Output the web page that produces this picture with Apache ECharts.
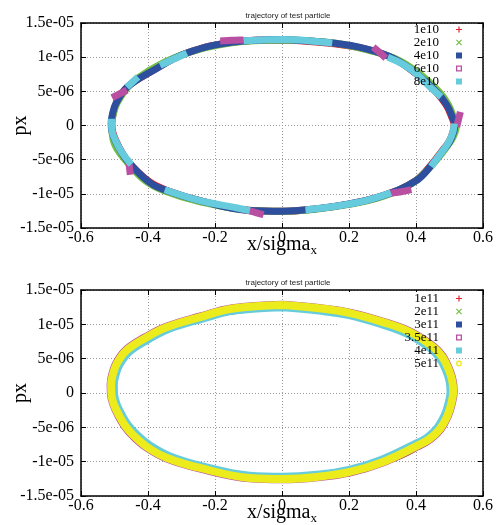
<!DOCTYPE html>
<html><head><meta charset="utf-8">
<script src="https://cdn.jsdelivr.net/npm/echarts@6/dist/echarts.min.js"></script>
<style>html,body{margin:0;padding:0;background:#fff}#c{width:500px;height:525px}</style>
</head><body><div id="c"></div>
<script>
const titleText = 'trajectory of test particle';
const xTickLabels = ['-0.6','-0.4','-0.2','0','0.2','0.4','0.6'];
const yTickLabels = ['-1.5e-05','-1e-05','-5e-06','0','5e-06','1e-05','1.5e-05'];
const topNames = ['1e10','2e10','4e10','6e10','8e10'];
const bottomNames = ['1e11','2e11','3e11','3.5e11','4e11','5e11'];

// ---- top panel ----
const top1e10 = [[0.0,12.55e-6],[0.15,12.0e-6],[0.25,11.2e-6],[0.33,9.9e-6],[0.4,7.6e-6],[0.46,4.9e-6],[0.49,3.0e-6],[0.506,1.3e-6],[0.514,0],[0.51,-1.0e-6],[0.498,-2.4e-6],[0.478,-3.7e-6],[0.448,-5.6e-6],[0.398,-8.1e-6],[0.3,-10.3e-6],[0.2,-11.5e-6],[0.1,-12.2e-6],[0.0,-12.55e-6],[-0.1,-12.4e-6],[-0.245,-11.0e-6],[-0.343,-9.5e-6],[-0.394,-8.3e-6],[-0.454,-5.6e-6],[-0.477,-4.0e-6],[-0.495,-2.3e-6],[-0.505,-1.0e-6],[-0.508,0.3e-6],[-0.504,1.7e-6],[-0.494,3.3e-6],[-0.462,5.6e-6],[-0.394,7.8e-6],[-0.284,10.6e-6],[-0.146,12.2e-6],[0.0,12.55e-6]];
const top2e10 = [[0.0,12.5e-6],[0.15,12.1e-6],[0.26,11.0e-6],[0.34,9.75e-6],[0.41,7.6e-6],[0.47,4.9e-6],[0.497,3.0e-6],[0.512,1.2e-6],[0.52,-0.3e-6],[0.515,-1.2e-6],[0.505,-2.2e-6],[0.475,-4.2e-6],[0.44,-6.2e-6],[0.39,-8.4e-6],[0.3,-10.38e-6],[0.2,-11.55e-6],[0.1,-12.25e-6],[0.0,-12.55e-6],[-0.1,-12.4e-6],[-0.25,-11.1e-6],[-0.35,-9.6e-6],[-0.41,-8.0e-6],[-0.46,-5.5e-6],[-0.485,-4.0e-6],[-0.5,-2.7e-6],[-0.507,-1.2e-6],[-0.508,0.2e-6],[-0.503,1.8e-6],[-0.49,3.5e-6],[-0.455,5.9e-6],[-0.4,7.95e-6],[-0.29,10.5e-6],[-0.15,12.1e-6],[0.0,12.5e-6]];
const top4e10 = [[0.003,12.57e-6],[0.152,12.06e-6],[0.254,11.18e-6],[0.331,9.85e-6],[0.403,7.5e-6],[0.463,4.85e-6],[0.492,3.0e-6],[0.508,1.3e-6],[0.516,0],[0.512,-1.0e-6],[0.5,-2.4e-6],[0.48,-3.68e-6],[0.45,-5.59e-6],[0.4,-8.09e-6],[0.3,-10.29e-6],[0.2,-11.47e-6],[0.1,-12.2e-6],[0.0,-12.55e-6],[-0.096,-12.45e-6],[-0.245,-11.0e-6],[-0.343,-9.55e-6],[-0.394,-8.38e-6],[-0.454,-5.59e-6],[-0.478,-4.0e-6],[-0.497,-2.3e-6],[-0.507,-1.0e-6],[-0.51,0.3e-6],[-0.506,1.7e-6],[-0.495,3.3e-6],[-0.463,5.59e-6],[-0.394,7.79e-6],[-0.284,10.6e-6],[-0.146,12.2e-6],[0.003,12.57e-6]];
const top6e10 = [[-0.174,12.4e-6],[-0.15,12.46e-6],[-0.126,12.5e-6], null,
  [0.28,11.15e-6],[0.292,10.65e-6],[0.302,10.2e-6], null,
  [0.53,1.5e-6],[0.524,0.3e-6], null,
  [0.334,-9.85e-6],[0.356,-9.7e-6],[0.376,-9.5e-6], null,
  [-0.106,-12.38e-6],[-0.085,-12.65e-6],[-0.065,-12.92e-6], null,
  [-0.456,-5.9e-6],[-0.454,-6.7e-6], null,
  [-0.498,4.3e-6],[-0.485,4.62e-6],[-0.472,4.95e-6]];
const top8e10 = [[-0.115,12.4e-6],[-0.05,12.55e-6],[0.003,12.57e-6],[0.08,12.4e-6],[0.15,12.06e-6], null,
  [0.316,10.0e-6],[0.36,9.0e-6],[0.403,7.5e-6],[0.445,5.5e-6],[0.475,4.2e-6], null,
  [0.514,0.3e-6],[0.51,-1.0e-6],[0.498,-2.4e-6],[0.48,-3.68e-6],[0.445,-6.0e-6], null,
  [0.325,-9.85e-6],[0.25,-11.0e-6],[0.15,-11.9e-6],[0.07,-12.35e-6], null,
  [-0.096,-12.45e-6],[-0.146,-11.95e-6],[-0.245,-11.0e-6],[-0.35,-9.4e-6], null,
  [-0.45,-5.7e-6],[-0.477,-4.0e-6],[-0.496,-2.3e-6],[-0.508,-0.6e-6],[-0.509,1.0e-6], null,
  [-0.463,5.59e-6],[-0.43,7.1e-6], null,
  [-0.364,8.8e-6],[-0.32,9.8e-6],[-0.284,10.6e-6]];

// ---- bottom panel ----
const bot1e11 = [[0.003,12.75e-6],[0.2,11.6e-6],[0.38,8.85e-6],[0.478,5.3e-6],[0.505,2.0e-6],[0.508,0],[0.494,-3.3e-6],[0.44,-6.6e-6],[0.3,-10.0e-6],[0.003,-12.5e-6],[-0.245,-10.9e-6],[-0.403,-7.85e-6],[-0.47,-4.8e-6],[-0.5,-1.9e-6],[-0.508,1.0e-6],[-0.494,4.2e-6],[-0.463,6.25e-6],[-0.245,11.05e-6],[0.003,12.75e-6]];
const bot2e11 = [[0.003,12.72e-6],[0.2,11.58e-6],[0.381,8.82e-6],[0.478,5.28e-6],[0.505,1.98e-6],[0.508,0],[0.493,-3.3e-6],[0.44,-6.58e-6],[0.3,-9.98e-6],[0.003,-12.47e-6],[-0.245,-10.88e-6],[-0.402,-7.82e-6],[-0.469,-4.78e-6],[-0.5,-1.9e-6],[-0.507,1.0e-6],[-0.493,4.2e-6],[-0.462,6.22e-6],[-0.245,11.02e-6],[0.003,12.72e-6]];
const bot3e11 = [[0.003,12.7e-6],[0.2,11.55e-6],[0.38,8.8e-6],[0.477,5.25e-6],[0.504,1.95e-6],[0.507,0],[0.492,-3.3e-6],[0.439,-6.55e-6],[0.3,-9.95e-6],[0.003,-12.45e-6],[-0.245,-10.85e-6],[-0.402,-7.8e-6],[-0.468,-4.75e-6],[-0.499,-1.9e-6],[-0.506,1.0e-6],[-0.492,4.2e-6],[-0.462,6.2e-6],[-0.245,11.0e-6],[0.003,12.7e-6]];
const bot35e11 = [[0.003,12.92e-6],[0.104,12.48e-6],[0.205,11.75e-6],[0.303,10.44e-6],[0.385,8.98e-6],[0.454,6.8e-6],[0.481,5.38e-6],[0.5,3.55e-6],[0.511,1.82e-6],[0.514,0.2e-6],[0.508,-1.62e-6],[0.496,-3.45e-6],[0.475,-5.28e-6],[0.443,-6.8e-6],[0.406,-7.82e-6],[0.303,-10.16e-6],[0.205,-11.62e-6],[0.104,-12.35e-6],[0.003,-12.64e-6],[-0.096,-12.49e-6],[-0.247,-11.04e-6],[-0.346,-9.57e-6],[-0.406,-7.96e-6],[-0.448,-6.2e-6],[-0.471,-4.87e-6],[-0.487,-3.54e-6],[-0.503,-1.93e-6],[-0.512,-0.3e-6],[-0.513,1.32e-6],[-0.508,2.74e-6],[-0.496,4.36e-6],[-0.466,6.35e-6],[-0.406,8.26e-6],[-0.346,9.72e-6],[-0.247,11.18e-6],[-0.148,12.42e-6],[0.003,12.92e-6]];
const bot4e11 = [[0.003,12.5e-6],[0.104,12.05e-6],[0.2,11.35e-6],[0.295,10.05e-6],[0.375,8.6e-6],[0.443,6.5e-6],[0.47,5.15e-6],[0.489,3.4e-6],[0.5,1.75e-6],[0.503,0.2e-6],[0.497,-1.55e-6],[0.485,-3.3e-6],[0.464,-5.05e-6],[0.433,-6.5e-6],[0.397,-7.45e-6],[0.296,-9.75e-6],[0.2,-11.2e-6],[0.104,-11.92e-6],[0.003,-12.2e-6],[-0.096,-12.05e-6],[-0.24,-10.65e-6],[-0.336,-9.2e-6],[-0.396,-7.6e-6],[-0.437,-5.9e-6],[-0.46,-4.65e-6],[-0.476,-3.4e-6],[-0.492,-1.85e-6],[-0.501,-0.3e-6],[-0.502,1.25e-6],[-0.497,2.6e-6],[-0.485,4.15e-6],[-0.455,6.05e-6],[-0.396,7.9e-6],[-0.337,9.35e-6],[-0.24,10.8e-6],[-0.143,12.0e-6],[0.003,12.5e-6]];
const bot5e11 = [[0.003,12.81e-6],[0.104,12.37e-6],[0.203,11.64e-6],[0.301,10.33e-6],[0.382,8.88e-6],[0.451,6.7e-6],[0.478,5.3e-6],[0.497,3.5e-6],[0.508,1.8e-6],[0.511,0.2e-6],[0.505,-1.6e-6],[0.493,-3.4e-6],[0.472,-5.2e-6],[0.44,-6.7e-6],[0.403,-7.7e-6],[0.301,-10.04e-6],[0.203,-11.5e-6],[0.104,-12.23e-6],[0.003,-12.52e-6],[-0.096,-12.37e-6],[-0.245,-10.92e-6],[-0.343,-9.46e-6],[-0.403,-7.86e-6],[-0.445,-6.11e-6],[-0.468,-4.8e-6],[-0.484,-3.49e-6],[-0.5,-1.9e-6],[-0.509,-0.3e-6],[-0.51,1.3e-6],[-0.505,2.7e-6],[-0.493,4.3e-6],[-0.463,6.26e-6],[-0.403,8.15e-6],[-0.343,9.61e-6],[-0.245,11.06e-6],[-0.146,12.3e-6],[0.003,12.81e-6]];

const C = {red:'#e8202a', green:'#74c043', blue:'#2e4f9e', magenta:'#b94fa0', cyan:'#66cbdc', yellow:'#ecec1c'};
const ICON_PLUS = 'path://M4,0H6V4H10V6H6V10H4V6H0V4H4Z';
const ICON_X = 'path://M1.4,0L5,3.6L8.6,0L10,1.4L6.4,5L10,8.6L8.6,10L5,6.4L1.4,10L0,8.6L3.6,5L0,1.4Z';
const ICON_OSQ = 'path://M0,0H10V10H0ZM2.2,2.2V7.8H7.8V2.2Z';
const ICON_RING = 'path://M5,0A5,5,0,1,1,5,10A5,5,0,1,1,5,0ZM5,2.4A2.6,2.6,0,1,0,5,7.6A2.6,2.6,0,1,0,5,2.4Z';

const chart = echarts.init(document.getElementById('c'), null, {renderer:'canvas'});
const SERIF = 'Liberation Serif';

function xLab(v){ const i = Math.round((v + 0.6) / 0.2); return xTickLabels[i] ?? ''; }
function yLab(v){ const i = Math.round((v + 1.5e-5) / 5e-6); return yTickLabels[i] ?? ''; }

const grids = [
  {left:81, top:23, width:402, height:205, containLabel:false, outerBoundsMode:'none'},
  {left:81, top:290, width:402, height:206, containLabel:false, outerBoundsMode:'none'}
];
const xAxes = [], yAxes = [];
grids.forEach((g, gi) => {
  const base = {type:'value', min:-0.6, max:0.6, interval:0.2, gridIndex:gi,
    axisLine:{show:true, onZero:false, lineStyle:{color:'#000', width:1.5}},
    axisTick:{show:true, inside:true, length:5, lineStyle:{color:'#000'}}};
  xAxes.push(Object.assign({}, base, {position:'bottom',
    axisLabel:{formatter:xLab, fontFamily:SERIF, fontSize:16, color:'#000', margin:2},
    splitLine:{show:true, lineStyle:{color:'#9a9a9a', type:[1,2], width:1}},
    name:'{a|x/sigma}{b|x}', nameLocation:'middle', nameGap:4, nameMoveOverlap:false,
    nameTextStyle:{rich:{a:{fontFamily:SERIF, fontSize:20, color:'#000'}, b:{fontFamily:SERIF, fontSize:13, color:'#000', padding:[12,0,0,0]}}}}));
  xAxes.push(Object.assign({}, base, {position:'top', axisLabel:{show:false}, splitLine:{show:false}}));
  const ybase = {type:'value', min:-1.5e-5, max:1.5e-5, interval:5e-6, gridIndex:gi,
    axisLine:{show:true, onZero:false, lineStyle:{color:'#000', width:1.5}},
    axisTick:{show:true, inside:true, length:5, lineStyle:{color:'#000'}}};
  yAxes.push(Object.assign({}, ybase, {position:'left',
    axisLabel:{formatter:yLab, fontFamily:SERIF, fontSize:16, color:'#000', margin:7},
    splitLine:{show:true, lineStyle:{color:'#9a9a9a', type:[1,2], width:1}},
    name:'px', nameLocation:'middle', nameGap:50, nameRotate:90, nameMoveOverlap:false,
    nameTextStyle:{fontFamily:SERIF, fontSize:20, color:'#000'}}));
  yAxes.push(Object.assign({}, ybase, {position:'right', axisLabel:{show:false}, splitLine:{show:false}}));
});

function loop(name, data, color, gi, width, cap){
  return {name, type:'line', data, xAxisIndex:gi*2, yAxisIndex:gi*2, showSymbol:false, symbol:'none',
    smooth:0.4, connectNulls:false, color, lineStyle:{color, width, cap:cap || 'butt', join:'round'}, silent:true, animation:false};
}

const series = [
  loop('1e10', top1e10, C.red, 0, 7),
  loop('2e10', top2e10, C.green, 0, 7),
  loop('4e10', top4e10, C.blue, 0, 7),
  loop('6e10', top6e10, C.magenta, 0, 7, 'square'),
  loop('8e10', top8e10, C.cyan, 0, 7),
  loop('1e11', bot1e11, C.red, 1, 7),
  loop('2e11', bot2e11, C.green, 1, 7),
  loop('3e11', bot3e11, C.blue, 1, 7),
  loop('3.5e11', bot35e11, C.magenta, 1, 7),
  loop('4e11', bot4e11, C.cyan, 1, 8),
  loop('5e11', bot5e11, C.yellow, 1, 8)
];

const iconFor = {
  '1e10':ICON_PLUS, '2e10':ICON_X, '4e10':'rect', '6e10':ICON_OSQ, '8e10':'rect',
  '1e11':ICON_PLUS, '2e11':ICON_X, '3e11':'rect', '3.5e11':ICON_OSQ, '4e11':'rect', '5e11':ICON_RING
};
function legendFor(names, top, lh){
  return {orient:'vertical', left:397, top, align:'right', itemWidth:6, itemHeight:6, itemGap:0, padding:0,
    selectedMode:false, formatter:n => '{a|' + n + '}',
    textStyle:{rich:{a:{fontFamily:SERIF, fontSize:13, lineHeight:lh, width:42, align:'right', padding:[0,12,0,0], color:'#000'}}},
    data:names.map(n => ({name:n, icon:iconFor[n]}))};
}

chart.setOption({
  animation:false,
  backgroundColor:'#fff',
  title:[
    {text:titleText, left:283, top:7, textAlign:'center', textStyle:{fontFamily:'Liberation Sans', fontSize:8, fontWeight:'normal', color:'#222'}},
    {text:titleText, left:283, top:274, textAlign:'center', textStyle:{fontFamily:'Liberation Sans', fontSize:8, fontWeight:'normal', color:'#222'}}
  ],
  grid:grids,
  xAxis:xAxes,
  yAxis:yAxes,
  legend:[legendFor(topNames, 23, 8), legendFor(bottomNames, 292, 7.4)],
  graphic:[
    {type:'rect', shape:{x:352, y:25, width:124, height:37}, style:{fill:'#fff'}, z:1, silent:true},
    {type:'rect', shape:{x:338, y:292, width:138, height:46}, style:{fill:'#fff'}, z:1, silent:true}
  ],
  series
});
</script>
</body></html>
